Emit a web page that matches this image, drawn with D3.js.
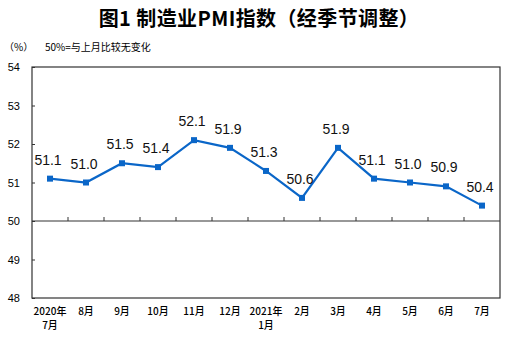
<!DOCTYPE html>
<html><head><meta charset="utf-8">
<script src="https://cdn.jsdelivr.net/npm/d3@7"></script>
<style>body{margin:0;background:#fff}svg{display:block}</style>
</head><body><svg id="c" width="514" height="339"></svg>
<script>
const categories = [["2020年","7月"],["8月"],["9月"],["10月"],["11月"],["12月"],["2021年","1月"],["2月"],["3月"],["4月"],["5月"],["6月"],["7月"]];
const values = [51.1,51.0,51.5,51.4,52.1,51.9,51.3,50.6,51.9,51.1,51.0,50.9,50.4];
const yTicks = [48,49,50,51,52,53,54];
const title = "图1 制造业PMI指数（经季节调整）";
const unitLabel = "（%）";
const note = "50%=与上月比较无变化";

const svg = d3.select("#c");
const L=32,R=500,T=67,B=298;
const x = d3.scaleBand().domain(d3.range(values.length)).range([L,R]);
const y = d3.scaleLinear().domain([48,54]).range([B,T]);
const cjk = "'Noto Sans CJK SC', sans-serif";
const lat = "'Liberation Sans', Arial, sans-serif";

svg.append("text").attr("x",259).attr("y",26).attr("text-anchor","middle")
  .attr("font-family",cjk).attr("font-weight","bold").attr("font-size",20)
  .attr("letter-spacing",0.4).text(title);
svg.append("text").attr("x",4).attr("y",51).attr("font-family",cjk).attr("font-size",10).text(unitLabel);
svg.append("text").attr("x",45).attr("y",51).attr("font-family",cjk).attr("font-size",10).text(note);

svg.append("rect").attr("x",L).attr("y",T).attr("width",R-L).attr("height",B-T)
  .attr("fill","none").attr("stroke","#333").attr("stroke-width",1.2);

const yAxis = d3.axisLeft(y).tickValues(yTicks).tickSize(-3).tickPadding(12).tickFormat(d3.format("d"));
const ga = svg.append("g").attr("transform",`translate(${L},0)`).call(yAxis);
ga.select(".domain").remove();
ga.selectAll("line").attr("stroke","#333");
ga.selectAll("text").attr("font-family",lat).attr("font-size",11).attr("fill","#000");

svg.append("line").attr("x1",L).attr("x2",R).attr("y1",y(50)).attr("y2",y(50)).attr("stroke","#333").attr("stroke-width",1.2);
svg.append("g").selectAll("line").data(d3.range(1,values.length)).join("line")
  .attr("x1",i=>x(i)).attr("x2",i=>x(i)).attr("y1",y(50)).attr("y2",y(50)-4).attr("stroke","#333");

const cx = i=>x(i)+x.bandwidth()/2;
svg.append("path").datum(values).attr("fill","none").attr("stroke","#0a66c8").attr("stroke-width",2.2)
  .attr("d",d3.line().x((d,i)=>cx(i)).y(d=>y(d)));
svg.append("g").selectAll("rect").data(values).join("rect")
  .attr("x",(d,i)=>cx(i)-3).attr("y",d=>y(d)-3).attr("width",6).attr("height",6).attr("fill","#0a66c8");
svg.append("g").selectAll("text").data(values).join("text")
  .attr("x",(d,i)=>cx(i)-2).attr("y",d=>y(d)-14).attr("text-anchor","middle")
  .attr("font-family",lat).attr("font-size",14).attr("fill","#111").text(d=>d.toFixed(1));

const gx = svg.append("g");
categories.forEach((c,i)=>{
  c.forEach((s,j)=>{
    gx.append("text").attr("x",cx(i)).attr("y",315+j*14).attr("text-anchor","middle")
      .attr("font-family",cjk).attr("font-size",10).attr("font-weight",500).text(s);
  });
});
</script></body></html>
